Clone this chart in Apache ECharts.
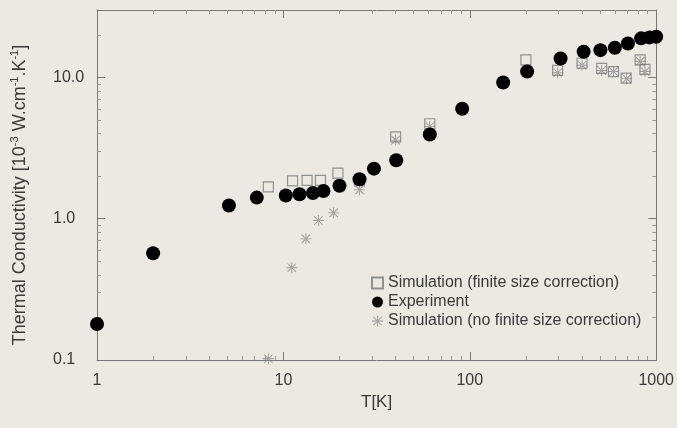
<!DOCTYPE html>
<html>
<head>
<meta charset="utf-8">
<script src="https://cdn.jsdelivr.net/npm/echarts@6/dist/echarts.min.js"></script>
<style>
html,body{margin:0;padding:0;background:#ece9e3;}
#chart{width:677px;height:428px;}
</style>
</head>
<body>
<div id="chart"></div>
<script>
// Experiment (filled circles)
const expT = [1, 2.0, 5.1, 7.2, 10.3, 12.2, 14.4, 16.4, 20, 25.6, 30.6, 40.3, 61, 91, 151, 203, 307, 408, 502, 600, 705, 830, 920, 1000];
const expK = [0.18, 0.57, 1.24, 1.41, 1.46, 1.49, 1.52, 1.57, 1.71, 1.9, 2.26, 2.59, 3.94, 6.0, 9.2, 11.0, 13.6, 15.2, 15.6, 16.2, 17.4, 18.9, 19.2, 19.4];
// Simulation (finite size correction) (open squares)
const simT = [8.3, 11.2, 13.4, 15.8, 19.6, 25.6, 40, 61, 200, 296, 400, 510, 590, 690, 820, 870];
const simK = [1.68, 1.85, 1.87, 1.87, 2.1, 1.85, 3.8, 4.7, 13.3, 11.2, 12.6, 11.6, 11.0, 9.9, 13.3, 11.4];
// Simulation (no finite size correction) (asterisks)
const noT = [8.3, 11.1, 13.2, 15.4, 18.6, 25.6, 40, 61, 296, 400, 510, 590, 695, 820, 870];
const noK = [0.102, 0.45, 0.72, 0.97, 1.1, 1.6, 3.6, 4.5, 10.8, 12.2, 11.2, 11.0, 9.8, 13.0, 11.0];

const seriesNames = ['Simulation (finite size correction)', 'Experiment', 'Simulation (no finite size correction)'];
const xTickLabels = ['1', '10', '100', '1000'];
const yTickLabels = ['0.1', '1.0', '10.0'];

const pair = (xs, ys) => xs.map((x, i) => [x, ys[i]]);
const star = 'path://M11 0h2v24h-2z M0 11h24v2h-24z M3.5 2.1L21.9 20.5L20.5 21.9L2.1 3.5Z M20.5 2.1L2.1 20.5L3.5 21.9L21.9 3.5Z';

const isPow = v => { const l = Math.log10(v); return Math.abs(l - Math.round(l)) < 1e-6; };
const axisCol = '#777';
const txtCol = '#3a3a3a';
const font = 'Liberation Sans, Arial, sans-serif';

const chart = echarts.init(document.getElementById('chart'));
chart.setOption({
  backgroundColor: '#ece9e3',
  animation: false,
  grid: {left: 97, right: 14, top: 10, bottom: 68},
  xAxis: [{
    type: 'log', logBase: 10, min: 1, max: 1000,
    name: 'T[K]', nameLocation: 'middle', nameGap: 34,
    nameTextStyle: {fontSize: 17, color: txtCol, fontFamily: font},
    axisLine: {lineStyle: {color: axisCol}},
    axisTick: {inside: true, length: 8, lineStyle: {color: axisCol}},
    minorTick: {show: true, splitNumber: 9, length: 4, lineStyle: {color: '#999'}},
    splitLine: {show: false},
    axisLabel: {fontSize: 16, color: txtCol, fontFamily: font, margin: 13,
      formatter: v => { const i = Math.round(Math.log10(v)); return isPow(v) ? xTickLabels[i] : ''; }}
  }, {
    type: 'log', logBase: 10, min: 1, max: 1000, position: 'top',
    axisLine: {lineStyle: {color: axisCol}},
    axisTick: {inside: true, length: 8, lineStyle: {color: axisCol}},
    minorTick: {show: true, splitNumber: 9, length: 4, lineStyle: {color: '#999'}},
    splitLine: {show: false}, axisLabel: {show: false}
  }],
  yAxis: [{
    type: 'log', logBase: 10, min: 0.1, max: 30,
    name: '{n|Thermal Conductivity [10}{s|-3}{n| W.cm}{s|-1}{n|.K}{s|-1}{n|]}',
    nameLocation: 'middle', nameRotate: 90, nameGap: 66,
    nameTextStyle: {color: txtCol, fontFamily: font, padding: [0, 20, 0, 0],
      rich: {n: {fontSize: 18, color: txtCol, fontFamily: font, lineHeight: 22},
             s: {fontSize: 11, color: txtCol, fontFamily: font, verticalAlign: 'top', lineHeight: 22}}},
    axisLine: {lineStyle: {color: axisCol}},
    axisTick: {inside: true, length: 8, lineStyle: {color: axisCol}},
    minorTick: {show: true, splitNumber: 9, length: 4, lineStyle: {color: '#999'}},
    splitLine: {show: false},
    axisLabel: {fontSize: 16, color: txtCol, fontFamily: font, align: 'left', margin: 44,
      formatter: v => { if (!isPow(v)) return ''; const i = Math.round(Math.log10(v)) + 1; return yTickLabels[i] || ''; }}
  }, {
    type: 'log', logBase: 10, min: 0.1, max: 30, position: 'right',
    axisLine: {lineStyle: {color: axisCol}},
    axisTick: {inside: true, length: 8, lineStyle: {color: axisCol}},
    minorTick: {show: true, splitNumber: 9, length: 4, lineStyle: {color: '#999'}},
    splitLine: {show: false}, axisLabel: {show: false}
  }],
  legend: {
    orient: 'vertical', left: 366, top: 270, itemGap: 3, itemWidth: 11, itemHeight: 11,
    textStyle: {fontSize: 16, color: txtCol, fontFamily: font},
    data: seriesNames
  },
  series: [{
    name: seriesNames[2], type: 'scatter', xAxisIndex: 0, yAxisIndex: 0,
    symbol: star, symbolSize: 11, z: 2,
    itemStyle: {color: '#8c8c8c', opacity: 0.85},
    data: pair(noT, noK)
  }, {
    name: seriesNames[0], type: 'scatter', xAxisIndex: 0, yAxisIndex: 0,
    symbol: 'rect', symbolSize: 10, z: 3,
    itemStyle: {color: 'rgba(0,0,0,0)', borderColor: '#7a7a7a', borderWidth: 1.2},
    data: pair(simT, simK)
  }, {
    name: seriesNames[1], type: 'scatter', xAxisIndex: 0, yAxisIndex: 0,
    symbol: 'circle', symbolSize: 14, z: 4,
    itemStyle: {color: '#000', opacity: 1},
    data: pair(expT, expK)
  }]
});
</script>
</body>
</html>
